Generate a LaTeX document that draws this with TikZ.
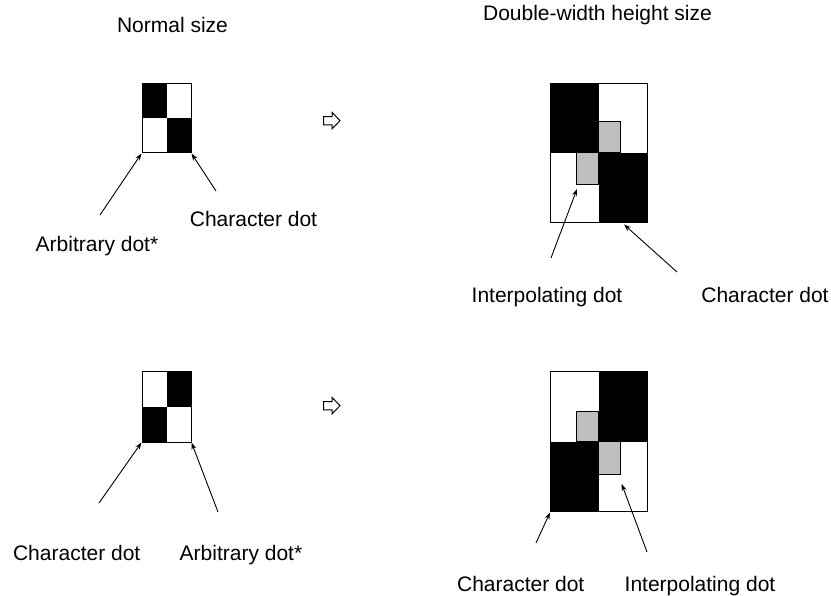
\documentclass[tikz,border=0pt]{standalone}
\usepackage{fontspec}
\setmainfont{Liberation Sans}
\usetikzlibrary{arrows.meta,calc}
\tikzset{
  lbl/.style={font=\fontsize{21pt}{25pt}\selectfont, anchor=base, inner sep=0pt},
  gridbox/.style={draw=black, line width=1pt, inner sep=0pt},
  blk/.style={fill=black},
  gry/.style={fill=black!25, draw=black, line width=1pt},
  arr/.style={line width=0.9pt, -{Stealth[length=7pt,width=5pt]}},
  bigarrow/.style={draw=black, line width=1pt, fill=white, line join=miter},
}
\begin{document}
\begin{tikzpicture}[x=1pt,y=-1pt]
\useasboundingbox (0,0) rectangle (831,596);

% titles
\node[lbl] (t1) at (172.5,32.3) {Normal size};
\node[lbl] (t2) at (597.5,20.7) {Double-width height size};

% ---------- top-left small grid ----------
\fill[blk] (142,84) rectangle (166.5,118.5);
\fill[blk] (166.5,118.5) rectangle (191,153);
\node[gridbox, minimum width=49pt, minimum height=69pt] (g1) at (166.5,118.5) {};

% ---------- bottom-left small grid ----------
\fill[blk] (166.5,372) rectangle (191,407);
\fill[blk] (142,407) rectangle (166.5,442);
\node[gridbox, minimum width=49pt, minimum height=70pt] (g2) at (166.5,407) {};

% ---------- top-right big grid ----------
\fill[blk] (550,84) rectangle (598.5,153);
\fill[blk] (598.5,153) rectangle (647,223);
\node[gry, minimum width=22pt, minimum height=31pt, inner sep=0pt] (gr1) at (609.5,137.5) {};
\node[gry, minimum width=22pt, minimum height=32pt, inner sep=0pt] (gr2) at (587.5,169) {};
\node[gridbox, minimum width=97pt, minimum height=139pt] (g3) at (598.5,153.5) {};
% repaint black cells over gray outline edges adjacent to black
\fill[blk] (550,84) rectangle (598,153);
\fill[blk] (599,153.5) rectangle (647,223);

% ---------- bottom-right big grid ----------
\fill[blk] (598.5,372) rectangle (647,441.5);
\fill[blk] (550,441.5) rectangle (598.5,511);
\node[gry, minimum width=22pt, minimum height=30pt, inner sep=0pt] (gr3) at (587.5,426.5) {};
\node[gry, minimum width=22pt, minimum height=32.5pt, inner sep=0pt] (gr4) at (609.5,457.75) {};
\fill[blk] (599,372) rectangle (647,441);
\fill[blk] (550,442) rectangle (598,511);
\node[gridbox, minimum width=97pt, minimum height=139pt] (g4) at (598.5,441.5) {};

% ---------- hollow block arrows ----------
\draw[bigarrow] (323.5,116.7) -- (332,116.7) -- (332,112.3) -- (340,120.7) -- (332,129) -- (332,124.8) -- (323.5,124.8) -- cycle;
\coordinate (ba1) at (331.5,120.7);
\draw[bigarrow] (323.5,401.7) -- (332,401.7) -- (332,397.3) -- (340,405.7) -- (332,414) -- (332,409.8) -- (323.5,409.8) -- cycle;
\coordinate (ba2) at (331.5,405.7);

% ---------- labels ----------
\node[lbl] (l1) at (253.5,226.7) {Character dot};
\node[lbl] (l2) at (97,252) {Arbitrary dot*};
\node[lbl] (l3) at (547,302.3) {Interpolating dot};
\node[lbl] (l4) at (765,302.3) {Character dot};
\node[lbl] (l5) at (76.7,560) {Character dot};
\node[lbl] (l6) at (241,560) {Arbitrary dot*};
\node[lbl] (l7) at (520.7,591.7) {Character dot};
\node[lbl] (l8) at (700,591.7) {Interpolating dot};

% ---------- pointer arrows ----------
\coordinate (s1) at (100,215);
\coordinate (s2) at (216,191);
\draw[arr] (s1) -- (g1.south west);
\draw[arr] (s2) -- (g1.south east);

\coordinate (s5) at (99,503);
\coordinate (s6) at (218,512);
\draw[arr] (s5) -- (g2.south west);
\draw[arr] (s6) -- (g2.south east);

\coordinate (s3) at (551,258);
\coordinate (e3) at (577,189);
\coordinate (s4) at (677,272);
\coordinate (e4) at (624,224.5);
\draw[arr] (s3) -- (e3);
\draw[arr] (s4) -- (e4);

\coordinate (s7) at (536,543);
\coordinate (e7) at (550,512.5);
\coordinate (s8) at (647,552);
\coordinate (e8) at (621.7,484);
\draw[arr] (s7) -- (e7);
\draw[arr] (s8) -- (e8);
\end{tikzpicture}
\end{document}
